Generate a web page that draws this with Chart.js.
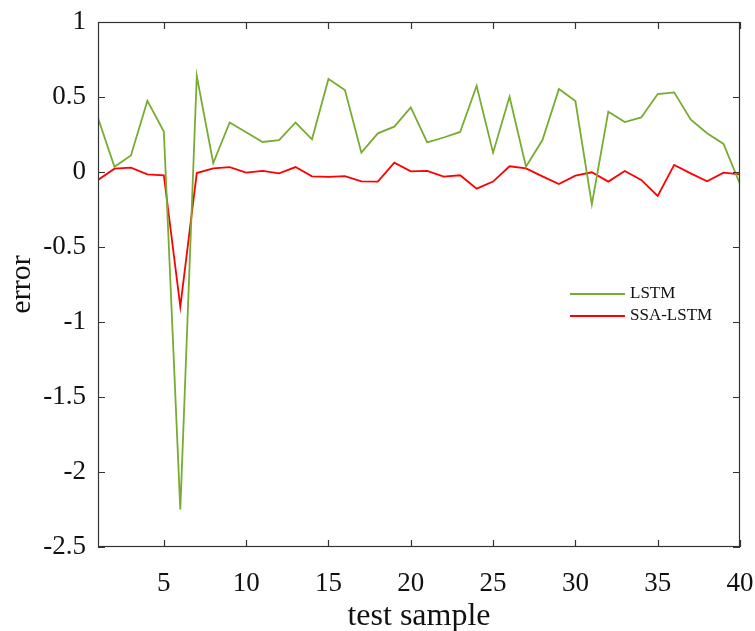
<!DOCTYPE html>
<html lang="en">
<head>
    <meta charset="UTF-8">
    <title>LSTM vs SSA-LSTM error</title>
    <script src="https://cdn.jsdelivr.net/npm/chart.js"></script>
    <style>
        html, body { margin: 0; padding: 0; background: #fff; }
        .chart-container { width: 755px; height: 631px; position: relative; }
    </style>
</head>
<body>
    <div class="chart-container">
        <canvas id="errChart"></canvas>
    </div>

    <script>
        // data
        const samples = Array.from({ length: 40 }, (_, i) => i + 1);
        const lstmErr = [0.36, 0.035, 0.11, 0.475, 0.27, -2.25, 0.64, 0.06, 0.33, 0.265,
                         0.20, 0.213, 0.33, 0.218, 0.62, 0.547, 0.129, 0.258, 0.302, 0.431,
                         0.198, 0.23, 0.267, 0.575, 0.129, 0.502, 0.036, 0.213, 0.553, 0.473,
                         -0.216, 0.402, 0.333, 0.364, 0.52, 0.531, 0.351, 0.258, 0.187, -0.08];
        const ssaErr = [-0.053, 0.022, 0.029, -0.016, -0.022, -0.898, -0.007, 0.024, 0.033, -0.004,
                        0.007, -0.009, 0.033, -0.029, -0.033, -0.027, -0.062, -0.064, 0.062, 0.004,
                        0.007, -0.031, -0.022, -0.111, -0.064, 0.038, 0.024, -0.029, -0.08, -0.024,
                        -0.002, -0.064, 0.007, -0.053, -0.16, 0.047, -0.009, -0.062, -0.004, -0.016];
        const xTicks = [5, 10, 15, 20, 25, 30, 35, 40];
        const yTicks = [1, 0.5, 0, -0.5, -1, -1.5, -2, -2.5];

        const serif = "'Liberation Serif', 'Times New Roman', serif";
        const axisColor = '#333';

        // box around the axes, inward ticks and the legend in the plot area
        const boxPlugin = {
            id: 'boxPlugin',
            afterDraw(chart) {
                const { ctx, chartArea: a, scales } = chart;
                ctx.save();
                ctx.strokeStyle = axisColor;
                ctx.lineWidth = 1.2;
                ctx.strokeRect(a.left + 0.5, a.top + 0.5, a.right - a.left - 1, a.bottom - a.top - 1);
                ctx.beginPath();
                xTicks.forEach(v => {
                    const x = Math.round(scales.x.getPixelForValue(v)) + 0.5;
                    ctx.moveTo(x, a.bottom); ctx.lineTo(x, a.bottom - 7);
                    ctx.moveTo(x, a.top); ctx.lineTo(x, a.top + 7);
                });
                yTicks.forEach(v => {
                    const y = Math.round(scales.y.getPixelForValue(v)) + 0.5;
                    ctx.moveTo(a.left, y); ctx.lineTo(a.left + 7, y);
                    ctx.moveTo(a.right, y); ctx.lineTo(a.right - 7, y);
                });
                ctx.stroke();

                // legend
                ctx.font = '17px ' + serif;
                ctx.textBaseline = 'middle';
                chart.data.datasets.forEach((ds, i) => {
                    const y = 294 + i * 22;
                    ctx.strokeStyle = ds.borderColor;
                    ctx.lineWidth = 1.8;
                    ctx.beginPath();
                    ctx.moveTo(570, y); ctx.lineTo(625, y);
                    ctx.stroke();
                    ctx.fillStyle = '#111';
                    ctx.fillText(ds.label, 630, y);
                });
                ctx.restore();
            }
        };

        const ctx = document.getElementById('errChart').getContext('2d');
        new Chart(ctx, {
            type: 'line',
            data: {
                labels: samples,
                datasets: [
                    {
                        label: 'LSTM',
                        data: samples.map((s, i) => ({ x: s, y: lstmErr[i] })),
                        borderColor: '#77AC30',
                        borderWidth: 1.8,
                        pointRadius: 0,
                        tension: 0
                    },
                    {
                        label: 'SSA-LSTM',
                        data: samples.map((s, i) => ({ x: s, y: ssaErr[i] })),
                        borderColor: '#FF0000',
                        borderWidth: 1.8,
                        pointRadius: 0,
                        tension: 0
                    }
                ]
            },
            options: {
                responsive: true,
                maintainAspectRatio: false,
                animation: false,
                layout: { padding: { top: 22, right: 15, left: 0, bottom: 0 } },
                plugins: {
                    legend: { display: false },
                    tooltip: { enabled: false }
                },
                scales: {
                    x: {
                        type: 'linear',
                        min: 1,
                        max: 40,
                        afterBuildTicks: s => { s.ticks = xTicks.map(v => ({ value: v })); },
                        afterFit: s => { s.height = 84; s.paddingRight = 0; s.paddingLeft = 0; },
                        grid: { display: false, drawTicks: false },
                        border: { display: false },
                        ticks: {
                            color: '#111',
                            padding: 21,
                            maxRotation: 0,
                            font: { family: serif, size: 27 }
                        },
                        title: {
                            display: true,
                            text: 'test sample',
                            color: '#111',
                            padding: { top: 0, bottom: -5 },
                            font: { family: serif, size: 32 }
                        }
                    },
                    y: {
                        min: -2.5,
                        max: 1,
                        afterBuildTicks: s => { s.ticks = yTicks.map(v => ({ value: v })); },
                        afterFit: s => { s.width = 98; s.paddingTop = 0; s.paddingBottom = 0; },
                        grid: { display: false, drawTicks: false },
                        border: { display: false },
                        ticks: {
                            color: '#111',
                            padding: 12,
                            font: { family: serif, size: 27 },
                            callback: v => String(v)
                        },
                        title: {
                            display: true,
                            text: 'error',
                            color: '#111',
                            padding: { bottom: 0 },
                            font: { family: serif, size: 30 }
                        }
                    }
                }
            },
            plugins: [boxPlugin]
        });
    </script>
</body>
</html>
